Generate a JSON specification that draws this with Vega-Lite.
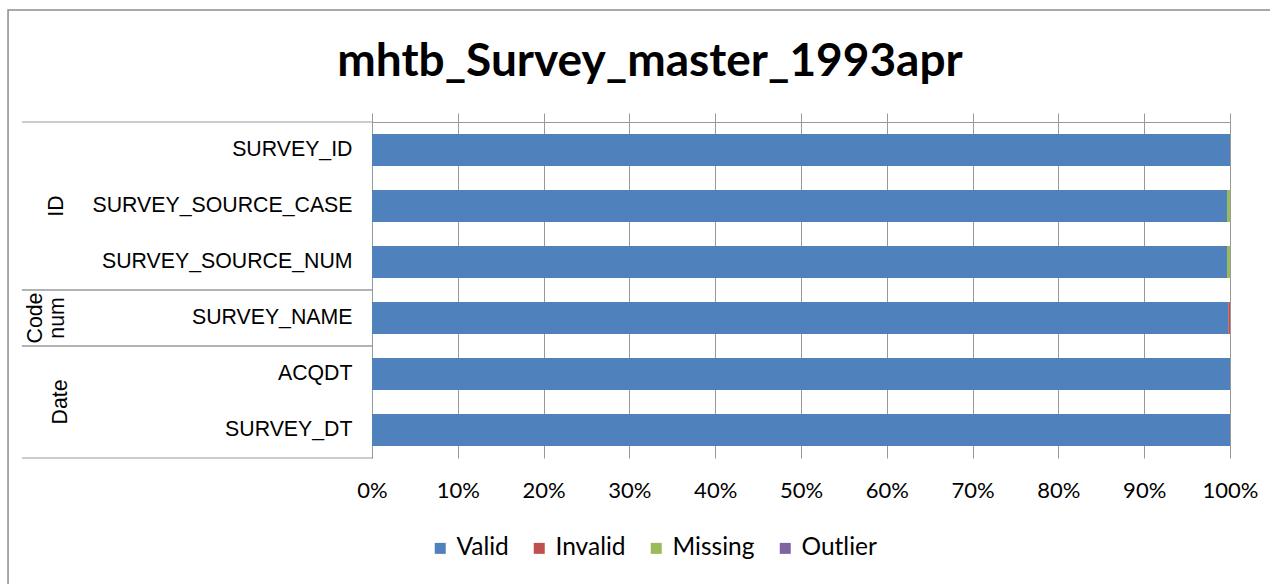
{
  "$schema": "https://vega.github.io/schema/vega-lite/v6.json",
  "width": 858,
  "height": 336,
  "autosize": {"type": "none"},
  "padding": {"left": 372, "top": 122, "right": 40, "bottom": 126},
  "background": "#ffffff",
  "config": {"view": {"stroke": null}},
  "title": {
    "text": "mhtb_Survey_master_1993apr",
    "font": "Lato",
    "fontSize": 46,
    "fontWeight": "bold",
    "color": "#000000",
    "anchor": "middle",
    "frame": "group",
    "dx": -151,
    "baseline": "alphabetic",
    "offset": -113
  },
  "datasets": {
    "quality": [
      {"row": "SURVEY_ID", "status": "Valid", "k": 1, "pct": 100},
      {"row": "SURVEY_SOURCE_CASE", "status": "Valid", "k": 1, "pct": 99.65},
      {"row": "SURVEY_SOURCE_CASE", "status": "Missing", "k": 3, "pct": 0.35},
      {"row": "SURVEY_SOURCE_NUM", "status": "Valid", "k": 1, "pct": 99.65},
      {"row": "SURVEY_SOURCE_NUM", "status": "Missing", "k": 3, "pct": 0.35},
      {"row": "SURVEY_NAME", "status": "Valid", "k": 1, "pct": 99.8},
      {"row": "SURVEY_NAME", "status": "Invalid", "k": 2, "pct": 0.2},
      {"row": "ACQDT", "status": "Valid", "k": 1, "pct": 100},
      {"row": "SURVEY_DT", "status": "Valid", "k": 1, "pct": 100}
    ],
    "groups": [
      {"group": "ID", "first": "SURVEY_ID", "last": "SURVEY_SOURCE_NUM"},
      {"group": "Code num", "first": "SURVEY_NAME", "last": "SURVEY_NAME"},
      {"group": "Date", "first": "ACQDT", "last": "SURVEY_DT"}
    ]
  },
  "resolve": {"scale": {"y": "independent"}, "axis": {"x": "independent", "y": "independent"}},
  "layer": [
    {
      "data": {"values": [{"frame": "chart"}]},
      "mark": {"type": "rect", "filled": false, "stroke": "#8c8c8c", "strokeWidth": 1.5},
      "encoding": {
        "x": {
          "datum": -0.4242,
          "type": "quantitative",
          "scale": {"domain": [0, 1]},
          "axis": {
            "orient": "top",
            "values": [0, 0.1, 0.2, 0.3, 0.4, 0.5, 0.6, 0.7, 0.8, 0.9, 1],
            "labels": false,
            "ticks": true,
            "tickSize": 9,
            "tickColor": "#999999",
            "domain": true,
            "domainColor": "#999999",
            "grid": false,
            "title": null
          }
        },
        "x2": {"datum": 1.06},
        "y": {"datum": 1.3333, "type": "quantitative", "scale": {"domain": [0, 1], "nice": false, "zero": false}, "axis": null},
        "y2": {"datum": -0.6}
      }
    },
    {
      "data": {"name": "quality"},
      "mark": {"type": "bar", "height": {"band": 0.57}},
      "encoding": {
        "y": {
          "field": "row",
          "type": "nominal",
          "sort": null,
          "scale": {
            "domain": ["SURVEY_ID", "SURVEY_SOURCE_CASE", "SURVEY_SOURCE_NUM", "SURVEY_NAME", "ACQDT", "SURVEY_DT"],
            "paddingInner": 0,
            "paddingOuter": 0
          },
          "axis": {
            "orient": "left",
            "title": null,
            "ticks": false,
            "domain": true,
            "domainColor": "#999999",
            "labelFont": "Liberation Sans",
            "labelFontSize": 21.3,
            "labelColor": "#000000",
            "labelPadding": 20,
            "labelLimit": 400
          }
        },
        "x": {
          "field": "pct",
          "type": "quantitative",
          "stack": "normalize",
          "scale": {"domain": [0, 1]},
          "axis": {
            "orient": "bottom",
            "values": [0, 0.1, 0.2, 0.3, 0.4, 0.5, 0.6, 0.7, 0.8, 0.9, 1],
            "format": ".0%",
            "grid": true,
            "gridColor": "#999999",
            "ticks": false,
            "domain": false,
            "labelFlush": false,
            "labelFont": "Lato",
            "labelFontSize": 22,
            "labelColor": "#000000",
            "labelPadding": 22,
            "title": null
          }
        },
        "color": {
          "field": "status",
          "type": "nominal",
          "scale": {
            "domain": ["Valid", "Invalid", "Missing", "Outlier"],
            "range": ["#4F81BD", "#C0504D", "#9BBB59", "#8064A2"]
          },
          "legend": {
            "orient": "none",
            "legendX": 56,
            "legendY": 414,
            "direction": "horizontal",
            "title": null,
            "symbolType": "square",
            "symbolSize": 121,
            "symbolStrokeWidth": 0,
            "symbolOpacity": 1,
            "labelFont": "Lato",
            "labelFontSize": 24.5,
            "labelColor": "#000000",
            "columnPadding": 18,
            "labelOffset": 4,
            "padding": 0
          }
        },
        "order": {"field": "k", "type": "quantitative"}
      }
    },
    {
      "data": {"name": "groups"},
      "mark": {"type": "rule", "color": "#999999", "strokeWidth": 1},
      "encoding": {
        "y": {
          "field": "first",
          "type": "nominal",
          "bandPosition": 0,
          "scale": {
            "domain": ["SURVEY_ID", "SURVEY_SOURCE_CASE", "SURVEY_SOURCE_NUM", "SURVEY_NAME", "ACQDT", "SURVEY_DT"],
            "paddingInner": 0,
            "paddingOuter": 0
          },
          "axis": null
        },
        "x": {"datum": -0.408, "type": "quantitative", "axis": null},
        "x2": {"datum": 0}
      }
    },
    {
      "data": {"name": "groups"},
      "mark": {"type": "rule", "color": "#999999", "strokeWidth": 1},
      "encoding": {
        "y": {
          "field": "last",
          "type": "nominal",
          "bandPosition": 1,
          "scale": {
            "domain": ["SURVEY_ID", "SURVEY_SOURCE_CASE", "SURVEY_SOURCE_NUM", "SURVEY_NAME", "ACQDT", "SURVEY_DT"],
            "paddingInner": 0,
            "paddingOuter": 0
          },
          "axis": null
        },
        "x": {"datum": -0.408, "type": "quantitative", "axis": null},
        "x2": {"datum": 0}
      }
    },
    {
      "data": {"values": [{"label": "ID", "at": "SURVEY_SOURCE_CASE"}]},
      "mark": {"type": "text", "angle": 270, "font": "Liberation Sans", "fontSize": 21.3, "color": "#000000", "align": "center", "baseline": "middle"},
      "encoding": {
        "y": {
          "field": "at",
          "type": "nominal",
          "scale": {
            "domain": ["SURVEY_ID", "SURVEY_SOURCE_CASE", "SURVEY_SOURCE_NUM", "SURVEY_NAME", "ACQDT", "SURVEY_DT"],
            "paddingInner": 0,
            "paddingOuter": 0
          },
          "axis": null
        },
        "x": {"datum": -0.367, "type": "quantitative", "axis": null},
        "text": {"field": "label"}
      }
    },
    {
      "data": {"values": [{"label": "Code\nnum", "at": "SURVEY_NAME"}]},
      "mark": {"type": "text", "angle": 270, "font": "Liberation Sans", "fontSize": 21.3, "color": "#000000", "align": "center", "baseline": "middle", "lineBreak": "\n", "lineHeight": 22},
      "encoding": {
        "y": {
          "field": "at",
          "type": "nominal",
          "scale": {
            "domain": ["SURVEY_ID", "SURVEY_SOURCE_CASE", "SURVEY_SOURCE_NUM", "SURVEY_NAME", "ACQDT", "SURVEY_DT"],
            "paddingInner": 0,
            "paddingOuter": 0
          },
          "axis": null
        },
        "x": {"datum": -0.3915, "type": "quantitative", "axis": null},
        "text": {"field": "label"}
      }
    },
    {
      "data": {"values": [{"label": "Date", "at": "SURVEY_DT"}]},
      "mark": {"type": "text", "angle": 270, "font": "Liberation Sans", "fontSize": 21.3, "color": "#000000", "align": "center", "baseline": "middle"},
      "encoding": {
        "y": {
          "field": "at",
          "type": "nominal",
          "scale": {
            "type": "point",
            "domain": ["SURVEY_ID", "SURVEY_SOURCE_CASE", "SURVEY_SOURCE_NUM", "SURVEY_NAME", "ACQDT", "SURVEY_DT", "(end)"],
            "padding": 0
          },
          "axis": null
        },
        "x": {"datum": -0.363, "type": "quantitative", "axis": null},
        "text": {"field": "label"}
      }
    }
  ]
}
